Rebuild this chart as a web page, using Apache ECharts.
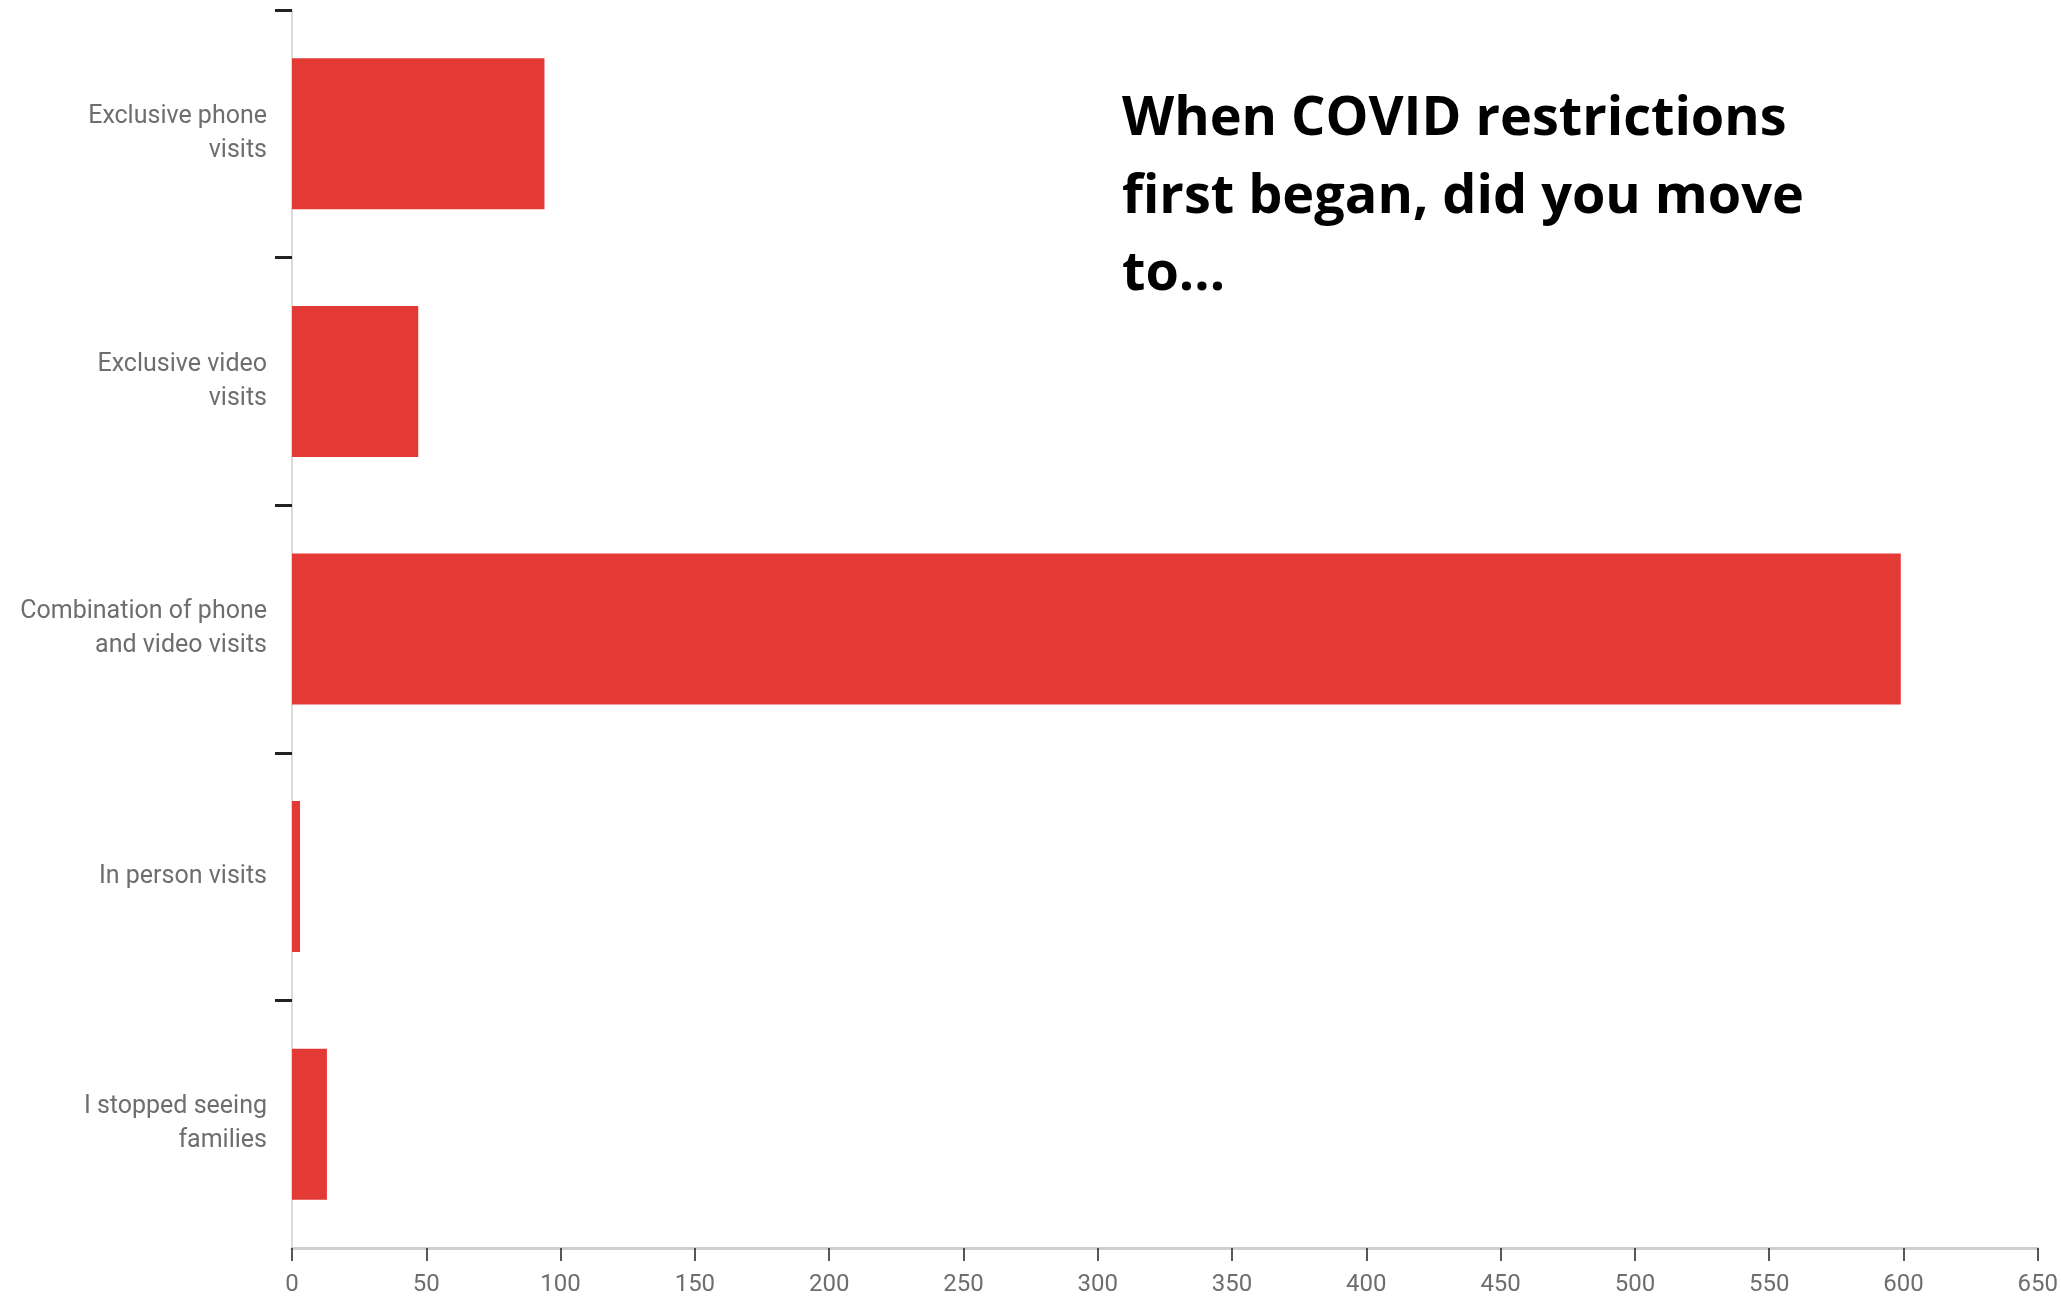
<!DOCTYPE html>
<html>
<head>
<meta charset="utf-8">
<script src="https://cdn.jsdelivr.net/npm/echarts@6/dist/echarts.min.js"></script>
<style>html,body{margin:0;padding:0;background:#fff}#c{width:2061px;height:1297px}</style>
</head>
<body>
<div id="c"></div>
<script>
const categories = [
  "Exclusive phone\nvisits",
  "Exclusive video\nvisits",
  "Combination of phone\nand video visits",
  "In person visits",
  "I stopped seeing\nfamilies"
];
const values = [94, 47, 599, 3, 13];
const titleText = "When COVID restrictions\nfirst began, did you move\nto...";
const bandTicks = [0, 1, 2, 3, 4];

const chart = echarts.init(document.getElementById('c'));
chart.setOption({
  animation: false,
  backgroundColor: '#fff',
  title: {
    text: titleText,
    left: 1117,
    top: 76,
    textStyle: {
      fontFamily: 'Open Sans, sans-serif',
      fontWeight: 'bold',
      fontSize: 54,
      lineHeight: 77.5,
      color: '#000'
    }
  },
  grid: { left: 292, right: 21, top: 10, bottom: 45, containLabel: false },
  xAxis: {
    type: 'value',
    position: 'bottom',
    min: 0, max: 650, interval: 50,
    axisLine: { show: true, onZero: false, lineStyle: { color: '#cfcfcf', width: 3 } },
    axisTick: { show: true, length: 13, lineStyle: { color: '#222', width: 1.5 } },
    splitLine: { show: false },
    axisLabel: { color: '#6e6e6e', fontSize: 24, fontFamily: 'Roboto, sans-serif', margin: 25 }
  },
  yAxis: [{
    type: 'category',
    inverse: true,
    data: categories,
    axisLine: { show: true, onZero: false, lineStyle: { color: '#cfcfcf', width: 1.5 } },
    axisTick: { show: false },
    axisLabel: { color: '#6e6e6e', fontSize: 25, lineHeight: 34, fontFamily: 'Roboto, sans-serif', margin: 25, align: 'right' }
  }, {
    type: 'value',
    position: 'left',
    inverse: true,
    min: 0, max: 5,
    axisLine: { show: false, onZero: false },
    splitLine: { show: false },
    axisLabel: { show: false },
    axisTick: { show: true, length: 17, customValues: bandTicks, lineStyle: { color: '#222', width: 3 } }
  }],
  series: [{
    type: 'bar',
    data: values,
    yAxisIndex: 0,
    barCategoryGap: '39%',
    itemStyle: { color: '#e43a36' }
  }]
});
</script>
</body>
</html>
